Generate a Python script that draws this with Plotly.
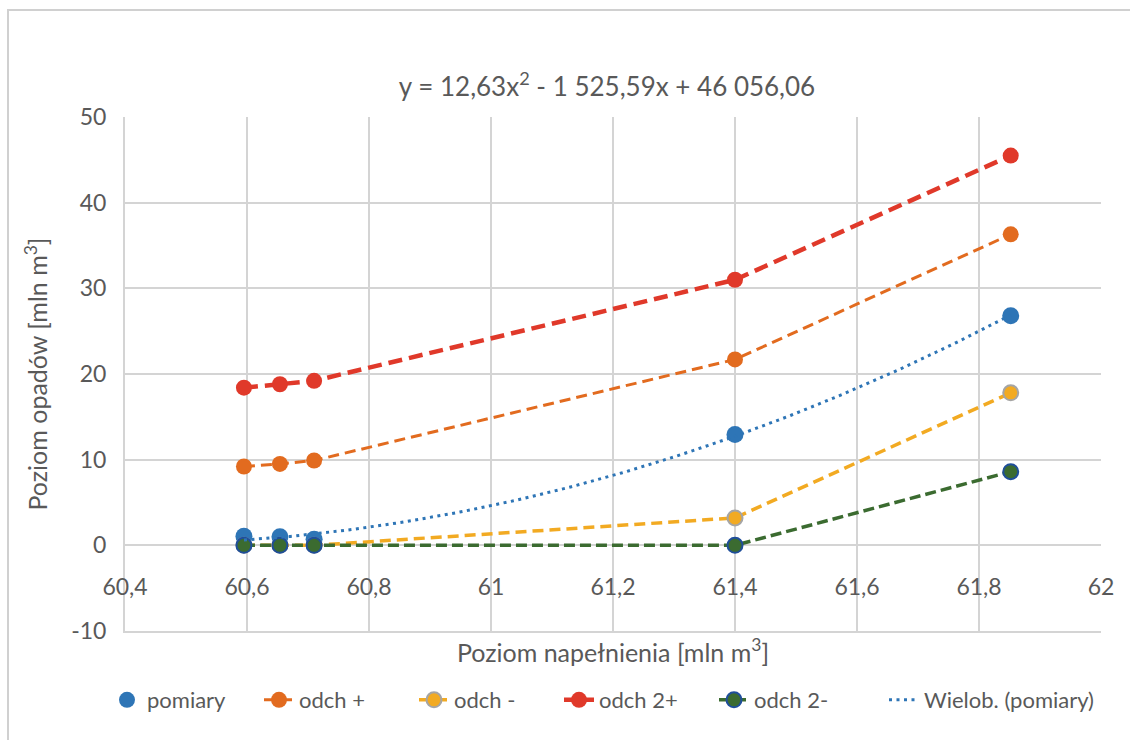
import numpy as np
import plotly.graph_objects as go

# ---- data ----
x_vals = [60.595, 60.654, 60.71, 61.40, 61.852]
pomiary = [1.05, 1.0, 0.7, 12.95, 26.8]
odch_plus = [9.2, 9.5, 9.9, 21.7, 36.3]
odch_minus = [0.0, 0.0, 0.0, 3.2, 17.8]
odch2_plus = [18.4, 18.8, 19.2, 31.0, 45.5]
odch2_minus = [0.0, 0.0, 0.0, 0.0, 8.6]

x_tickvals = [60.4, 60.6, 60.8, 61.0, 61.2, 61.4, 61.6, 61.8, 62.0]
x_ticktext = ["60,4", "60,6", "60,8", "61", "61,2", "61,4", "61,6", "61,8", "62"]
y_tickvals = [-10, 0, 10, 20, 30, 40, 50]
y_ticktext = ["-10", "0", "10", "20", "30", "40", "50"]

title_text = "y = 12,63x<sup>2</sup> - 1 525,59x + 46 056,06"

# polynomial trendline (order 2) fitted to measurements
coef = np.polyfit(x_vals, pomiary, 2)
xt = np.linspace(min(x_vals), max(x_vals), 200)
yt = np.polyval(coef, xt)

FONT = "Lato"
TXT = "#595959"
GRID = "#D4D4D4"

ML, MR, MT, MB = 125, 29, 117, 109
W, H = 1130, 740
pw, ph = W - ML - MR, H - MT - MB

# legend entry text start positions (px) -> one legend per series
legend_text_px = [148, 300, 455, 600, 755, 925]
legend_y = -(700 - (H - MB)) / ph

fig = go.Figure()

fig.add_trace(go.Scatter(x=x_vals, y=pomiary, mode="markers", name="pomiary", legend="legend",
                         marker=dict(size=17, color="#2E75B6")))
fig.add_trace(go.Scatter(x=x_vals, y=odch_plus, mode="lines+markers", name="odch +", legend="legend2",
                         line=dict(color="#E26B1F", width=3, dash="11px,6px"),
                         marker=dict(size=16, color="#E26B1F")))
fig.add_trace(go.Scatter(x=x_vals, y=odch_minus, mode="lines+markers", name="odch -", legend="legend3",
                         line=dict(color="#F2AA22", width=3.5, dash="11px,6px"),
                         marker=dict(size=15, color="#F2AA22", line=dict(color="#A5A5A5", width=2))))
fig.add_trace(go.Scatter(x=x_vals, y=odch2_plus, mode="lines+markers", name="odch 2+", legend="legend4",
                         line=dict(color="#E0392A", width=4.5, dash="14px,7px"),
                         marker=dict(size=16, color="#E0392A")))
fig.add_trace(go.Scatter(x=x_vals, y=odch2_minus, mode="lines+markers", name="odch 2-", legend="legend5",
                         line=dict(color="#3B6B30", width=3.5, dash="11px,5px"),
                         marker=dict(size=15, color="#3B6B30", line=dict(color="#1F4E9A", width=2))))
fig.add_trace(go.Scatter(x=xt, y=yt, mode="lines", name="Wielob. (pomiary)", legend="legend6",
                         line=dict(color="#2E75B6", width=3, dash="3px,4.5px")))

# dummy trace to carry tick labels on an axis placed at y=0
fig.add_trace(go.Scatter(x=[60.4, 62], y=[None, None], xaxis="x2", showlegend=False,
                         hoverinfo="skip"))

legends = {}
for i, tx in enumerate(legend_text_px):
    key = "legend" if i == 0 else f"legend{i + 1}"
    legends[key] = dict(orientation="h", x=(tx - 41 - ML) / pw, xanchor="left",
                        y=legend_y, yanchor="middle",
                        font=dict(size=22, color=TXT, family=FONT),
                        bgcolor="rgba(0,0,0,0)")

fig.update_layout(
    width=W, height=H,
    margin=dict(l=ML, r=MR, t=MT, b=MB, pad=0, autoexpand=False),
    paper_bgcolor="white", plot_bgcolor="white",
    separators=", ",
    font=dict(family=FONT, color=TXT, size=21),
    title=dict(text=title_text, x=607 / W, xanchor="center",
               y=1 - 87 / H, yanchor="middle", font=dict(size=26, color=TXT)),
    xaxis=dict(range=[60.4, 62], tickvals=x_tickvals, showticklabels=False,
               showgrid=True, gridcolor=GRID, gridwidth=2,
               showline=True, linecolor=GRID, linewidth=2, zeroline=False,
               title=dict(text="Poziom napełnienia [mln m<sup>3</sup>]", standoff=12,
                          font=dict(size=25, color=TXT))),
    xaxis2=dict(range=[60.4, 62], overlaying="x", anchor="free",
                position=(0 - (-10)) / 60, side="bottom",
                tickvals=x_tickvals, ticktext=x_ticktext, showgrid=False,
                showline=False, zeroline=False, ticks="", ticklabelstandoff=26,
                tickfont=dict(size=23, color=TXT)),
    yaxis=dict(range=[-10, 50], tickvals=y_tickvals, ticktext=y_ticktext,
               showgrid=True, gridcolor=GRID, gridwidth=2,
               showline=True, linecolor=GRID, linewidth=2,
               zeroline=True, zerolinecolor=GRID, zerolinewidth=2,
               ticks="", ticklabelstandoff=12, tickfont=dict(size=23, color=TXT),
               title=dict(text="Poziom opadów [mln m<sup>3</sup>]", standoff=16,
                          font=dict(size=25, color=TXT))),
    shapes=[dict(type="rect", xref="paper", yref="paper",
                 x0=(8 - ML) / pw, x1=1.2, y0=-0.5, y1=1 + (MT - 10) / ph,
                 line=dict(color="#D0D0D0", width=2), layer="below")],
    **legends,
)

fig.write_html("out.html")
